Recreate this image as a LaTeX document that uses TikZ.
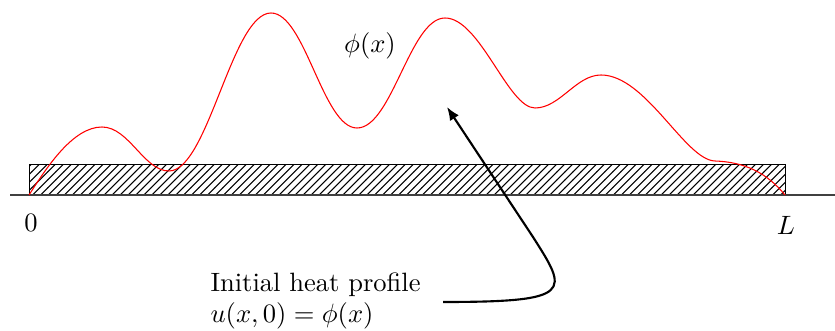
\documentclass[tikz,border=0pt]{standalone}
\usetikzlibrary{patterns,arrows.meta}
\begin{document}
\begin{tikzpicture}[x=0.377pt,y=0.377pt,
  axisline/.style={line width=0.9pt,black!75,-{Latex[length=4pt]}},
  rod/.style={draw=black,pattern=north east lines},
  profile/.style={red,line width=0.4pt},
  pointer/.style={thick,-{Latex[length=5pt,width=4pt]}}]
\useasboundingbox (0,0) rectangle (835,331);
\node[rod,minimum width=756*0.377pt,minimum height=30*0.377pt,inner sep=0,anchor=south west] (rod) at (29,136) {};
\coordinate (a0) at (10,136);
\coordinate (a1) at (846,136);
\draw[axisline] (a0) -- (a1);
\draw[profile] (29,136) .. controls +(18,28) and +(-29,0) .. (102,204)
  .. controls +(27,0) and +(-25,0) .. (169,160)
  .. controls +(39,0) and +(-39,0) .. (271,318)
  .. controls +(34,0) and +(-34,0) .. (357,203)
  .. controls +(35,0) and +(-35,0) .. (445,313)
  .. controls +(35,0) and +(-27,0) .. (535,223)
  .. controls +(25,0) and +(-25,0) .. (601,256)
  .. controls +(45,0) and +(-30,1) .. (715,170)
  .. controls +(30,-1) and +(-18,22) .. (785,136);
\node (zero) at (31,108) {$0$};
\node (ell) at (786,106) {$L$};
\node (phi) at (370,285) {$\phi(x)$};
\node[align=left,inner sep=0,anchor=west] (label) at (210,30) {Initial heat profile\\$u(x,0)=\phi(x)$};
\coordinate (start) at (443,29);
\coordinate (joint) at (533,94);
\coordinate (tip) at (447,224);
\draw[pointer] (start) .. controls (575,29) and (568,39) .. (joint) -- (tip);
\end{tikzpicture}
\end{document}
